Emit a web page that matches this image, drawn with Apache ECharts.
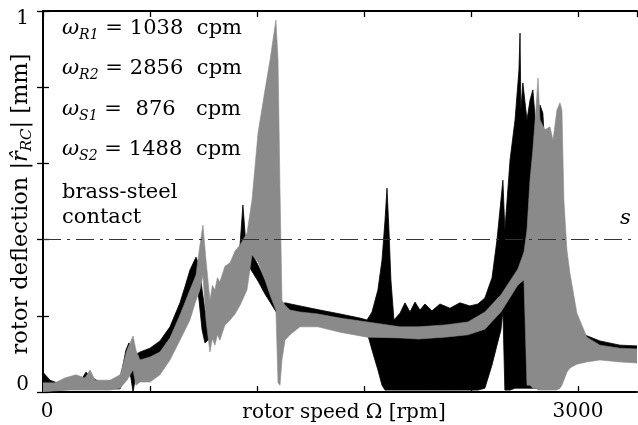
<!DOCTYPE html>
<html><head><meta charset="utf-8">
<script src="https://cdn.jsdelivr.net/npm/echarts@6/dist/echarts.min.js"></script>
<style>html,body{margin:0;padding:0;background:#fff}#c{width:638px;height:425px}</style>
</head><body><div id="c"></div><script>
const FONT = 'DejaVu Serif';

// rotor speed [rpm] and envelope (lower / upper) of the rotor deflection [mm]
const grayX  = [0,67,123,185,235,264,292,376,432,471,505,521,544,600,656,712,768,824,858,880,897,914,936,950,964,978,992,1020,1049,1077,1105,1144,1172,1206,1245,1273,1306,1318,1329,1340,1357,1385,1441,1542,1665,1817,2002,2103,2254,2383,2478,2568,2663,2697,2714,2731,2747,2764,2776,2787,2815,2843,2860,2882,2899,2910,2921,2938,2955,2994,3050,3123,3235,3331];
const grayHi = [0.024,0.024,0.037,0.045,0.037,0.058,0.031,0.031,0.045,0.110,0.147,0.110,0.084,0.092,0.105,0.142,0.202,0.268,0.307,0.386,0.438,0.346,0.241,0.280,0.268,0.300,0.289,0.330,0.339,0.370,0.386,0.417,0.504,0.680,0.793,0.871,0.976,0.871,0.530,0.241,0.228,0.215,0.210,0.205,0.194,0.184,0.171,0.171,0.176,0.184,0.210,0.255,0.323,0.367,0.425,0.556,0.635,0.740,0.824,0.714,0.688,0.696,0.661,0.740,0.759,0.740,0.504,0.373,0.312,0.207,0.144,0.123,0.115,0.113];
const grayLo = [0.000,0.003,0.005,0.005,0.005,0.005,0.005,0.005,0.010,0.031,0.058,0.018,0.026,0.026,0.045,0.084,0.136,0.189,0.241,0.268,0.307,0.189,0.105,0.140,0.123,0.150,0.136,0.175,0.189,0.205,0.228,0.268,0.360,0.341,0.294,0.255,0.215,0.024,0.018,0.084,0.136,0.150,0.171,0.171,0.157,0.144,0.142,0.139,0.144,0.150,0.165,0.210,0.281,0.294,0.018,0.018,0.010,0.010,0.005,0.005,0.005,0.005,0.005,0.005,0.010,0.018,0.031,0.052,0.063,0.073,0.079,0.084,0.079,0.076];

const blackX  = [0,39,95,207,241,275,320,432,465,482,493,505,516,544,600,656,712,768,796,824,858,875,892,908,925,964,1020,1077,1105,1121,1138,1161,1206,1245,1273,1312,1357,1441,1553,1665,1777,1817,1845,1878,1901,1918,1929,1940,1951,1968,2002,2030,2058,2086,2114,2142,2181,2226,2282,2338,2394,2439,2478,2518,2546,2568,2579,2590,2619,2647,2669,2675,2680,2691,2714,2731,2747,2770,2787,2803,2831,2871,2927,3011,3123,3235,3331];
const blackHi = [0.052,0.031,0.021,0.026,0.052,0.037,0.026,0.031,0.110,0.129,0.110,0.084,0.097,0.105,0.115,0.134,0.171,0.234,0.276,0.320,0.354,0.333,0.268,0.215,0.202,0.241,0.294,0.341,0.386,0.491,0.386,0.373,0.333,0.294,0.262,0.223,0.234,0.226,0.215,0.205,0.194,0.189,0.210,0.268,0.346,0.451,0.535,0.425,0.294,0.189,0.207,0.234,0.210,0.236,0.215,0.231,0.213,0.231,0.220,0.234,0.226,0.231,0.247,0.300,0.400,0.504,0.556,0.425,0.609,0.714,0.845,0.942,0.740,0.811,0.714,0.766,0.793,0.661,0.753,0.732,0.504,0.294,0.215,0.155,0.134,0.123,0.121];
const blackLo = [0.005,0.005,0.005,0.008,0.010,0.008,0.008,0.008,0.045,0.058,0.037,0.000,0.031,0.079,0.089,0.105,0.142,0.194,0.228,0.268,0.299,0.241,0.163,0.129,0.136,0.150,0.189,0.241,0.255,0.268,0.294,0.325,0.291,0.257,0.236,0.207,0.205,0.202,0.194,0.184,0.171,0.157,0.110,0.058,0.018,0.005,0.005,0.005,0.005,0.005,0.005,0.005,0.005,0.005,0.005,0.005,0.005,0.005,0.005,0.005,0.005,0.005,0.010,0.071,0.123,0.163,0.215,0.005,0.005,0.010,0.010,0.010,0.010,0.010,0.010,0.010,0.010,0.010,0.010,0.010,0.018,0.031,0.071,0.097,0.105,0.105,0.105];

const contactLevel = 0.4;
const xTickLabels = [0, 3000];
const yTickLabels = [0, 1];
const freqLines = [
  {sym: 'R1', val: '1038'},
  {sym: 'R2', val: '2856'},
  {sym: 'S1', val: '876'},
  {sym: 'S2', val: '1488'}
];

// band drawn as one polygon: upper envelope forward, lower envelope back
function band(id, xs, lo, hi, color, lw, z) {
  return {
    id: id, type: 'custom', coordinateSystem: 'cartesian2d', silent: true, clip: true, z: z,
    data: xs.map((x, i) => [x, lo[i], hi[i]]),
    encode: {x: 0, y: [1, 2]},
    renderItem: function (params, api) {
      if (params.dataIndex !== 0) return null;
      const pts = [];
      for (let i = 0; i < xs.length; i++) pts.push(api.coord([xs[i], hi[i]]));
      for (let i = xs.length - 1; i >= 0; i--) pts.push(api.coord([xs[i], lo[i]]));
      return {type: 'polygon', shape: {points: pts},
        style: {fill: color, stroke: color, lineWidth: lw, lineJoin: 'miter', miterLimit: 20}};
    }
  };
}

const rich = {
  w: {fontFamily: FONT, fontSize: 21, fontStyle: 'italic', lineHeight: 28, verticalAlign: 'middle'},
  s: {fontFamily: FONT, fontSize: 14, fontStyle: 'italic', lineHeight: 14, verticalAlign: 'bottom'},
  n: {fontFamily: FONT, fontSize: 21, lineHeight: 28, verticalAlign: 'middle'},
  d: {fontFamily: FONT, fontSize: 21, lineHeight: 28, verticalAlign: 'middle', width: 54, align: 'right'}
};
const lineY = [32, 72, 113, 153];
const graphics = freqLines.map((f, i) => ({
  type: 'text', left: 62, top: lineY[i] - 14, silent: true, z: 100,
  style: {text: '{w|ω}{s|' + f.sym + '}{n| = }{d|' + f.val + '}{n|  cpm}', rich: rich, fill: '#000'}
}));
graphics.push({type: 'text', left: 62, top: 182, silent: true, z: 100,
  style: {text: 'brass-steel', fill: '#000', font: '21px "DejaVu Serif"'}});
graphics.push({type: 'text', left: 62, top: 207, silent: true, z: 100,
  style: {text: 'contact', fill: '#000', font: '21px "DejaVu Serif"'}});
graphics.push({type: 'text', left: 620, top: 208, silent: true, z: 100,
  style: {text: 's', fill: '#000', font: 'italic 21px "DejaVu Serif"'}});
// axis titles
graphics.push({type: 'text', x: 344, y: 413, silent: true, z: 100,
  style: {text: 'rotor speed Ω [rpm]', fill: '#000', font: '20px "DejaVu Serif"',
    align: 'center', verticalAlign: 'middle'}});
graphics.push({type: 'text', x: 21, y: 204, rotation: Math.PI / 2, silent: true, z: 100,
  style: {text: '{n|rotor deflection |}{h|r̂}{s|RC}{n|| [mm]}', fill: '#000',
    align: 'center', verticalAlign: 'middle',
    rich: {n: {fontFamily: FONT, fontSize: 22.5, lineHeight: 28, verticalAlign: 'middle'},
           h: {fontFamily: FONT, fontSize: 22.5, fontStyle: 'italic', lineHeight: 28, verticalAlign: 'middle'},
           s: {fontFamily: FONT, fontSize: 15, fontStyle: 'italic', lineHeight: 15, verticalAlign: 'bottom'}}}});

const chart = echarts.init(document.getElementById('c'), null, {renderer: 'canvas'});
const axisLineStyle = {color: '#000', width: 2};
const tickStyle = {show: true, inside: true, length: 6, lineStyle: {color: '#000', width: 1.3}};
chart.setOption({
  animation: false,
  backgroundColor: '#fff',
  grid: {left: 43, top: 11, right: 1, bottom: 33, containLabel: false, outerBoundsMode: 'none'},
  xAxis: [{
    type: 'value', min: 0, max: 3331, interval: 600, position: 'bottom',
    axisLine: {show: true, onZero: false, lineStyle: axisLineStyle},
    axisTick: tickStyle, splitLine: {show: false},
    axisLabel: {margin: 10, color: '#000', fontFamily: FONT, fontSize: 20,
      showMinLabel: true, showMaxLabel: false,
      formatter: v => xTickLabels.includes(v) ? (v === 0 ? '{z|' + v + '}' : String(v)) : '',
      rich: {z: {fontFamily: FONT, fontSize: 20, padding: [0, 0, 0, 8]}}}
  }, {
    type: 'value', min: 0, max: 3331, interval: 600, position: 'top',
    axisLine: {show: true, onZero: false, lineStyle: axisLineStyle},
    axisTick: tickStyle, splitLine: {show: false}, axisLabel: {show: false}
  }],
  yAxis: [{
    type: 'value', min: 0, max: 1, interval: 0.2, position: 'left',
    axisLine: {show: true, onZero: false, lineStyle: axisLineStyle},
    axisTick: tickStyle, splitLine: {show: false},
    axisLabel: {margin: 14, color: '#000', fontFamily: FONT, fontSize: 20,
      formatter: v => yTickLabels.includes(v) ? (v === 0 ? '{b|0}' : '{t|1}') : '',
      rich: {b: {fontFamily: FONT, fontSize: 20, padding: [0, 0, 14, 0]},
             t: {fontFamily: FONT, fontSize: 20, padding: [16, 0, 0, 0]}}}
  }, {
    type: 'value', min: 0, max: 1, interval: 0.2, position: 'right',
    axisLine: {show: false},
    axisTick: tickStyle, splitLine: {show: false}, axisLabel: {show: false}
  }],
  series: [
    band('black', blackX, blackLo, blackHi, '#000', 0.8, 2),
    band('gray', grayX, grayLo, grayHi, '#8a8a8a', 0.6, 3),
    {
      id: 'contact', type: 'line', data: [], z: 4, silent: true,
      markLine: {silent: true, symbol: 'none', animation: false, label: {show: false},
        lineStyle: {color: '#333', width: 1.2, type: [18, 6, 3, 6]},
        data: [{yAxis: contactLevel}]}
    }
  ],
  graphic: graphics
});
</script></body></html>
